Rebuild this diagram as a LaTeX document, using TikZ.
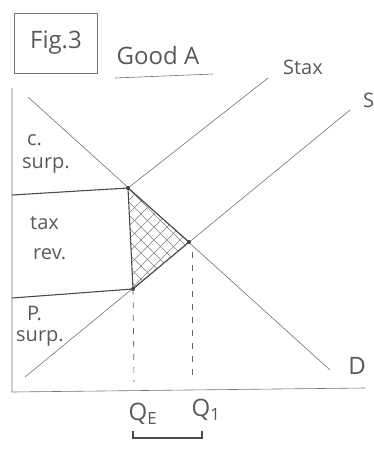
\documentclass[tikz,border=0pt]{standalone}
\usepackage{fontspec}
\setmainfont{Open Sans}
\begin{document}
\begin{tikzpicture}[x=1pt,y=-1pt,
  pencil/.style={draw=black!55, line width=0.6pt},
  heavy/.style={draw=black!70, line width=1.1pt},
  guide/.style={draw=black!60, line width=0.7pt, dash pattern=on 6pt off 7pt},
  lbl/.style={text=black!65, font=\fontsize{20}{21}\selectfont, inner sep=0pt},
  big/.style={text=black!65, font=\fontsize{24}{26}\selectfont, inner sep=0pt},
  dot/.style={circle, fill=black!75, inner sep=0pt, minimum size=4pt}]
\useasboundingbox (0,0) rectangle (374,451);
% key points
\coordinate (O) at (12,392);
\coordinate (Ytop) at (12,88);
\coordinate (Xend) at (365,388);
\coordinate (Dstart) at (28,97);
\coordinate (Dend) at (330,370);
\coordinate (Sstart) at (25,377);
\coordinate (Send) at (350,110);
\coordinate (Staxend) at (268,78);
\coordinate (A) at (128,188);
\coordinate (B) at (133,289);
\coordinate (E) at (189,242);
\coordinate (L1) at (12,195);
\coordinate (L2) at (12,298);
\coordinate (QEb) at (134,382);
\coordinate (Q1t) at (192,252);
\coordinate (Q1b) at (192,380);
% hatching
\begin{scope}
  \clip (A) -- (E) -- (B) -- cycle;
  \foreach \k in {-208,-195,...,208}{
    \draw[black!50, line width=0.6pt] (128+\k,188) -- ++(130,130);
    \draw[black!50, line width=0.6pt] (128+\k,188) -- ++(-130,130);
    \draw[black!50, line width=0.6pt] (128+\k,188) -- ++(130,-130);
    \draw[black!50, line width=0.6pt] (128+\k,188) -- ++(-130,-130);
  }
\end{scope}
% axes
\draw[pencil] (Ytop) -- (O) -- (Xend);
% curves
\draw[pencil] (Dstart) -- (Dend);
\draw[pencil] (Sstart) -- (Send);
\draw[pencil] (A) -- (Staxend);
% boxes
\draw[heavy] (L1) -- (A) -- (B) -- (L2);
\draw[heavy] (A) -- (E) -- (B);
\node[dot] at (A) {};
\node[dot] at (B) {};
\node[dot] at (E) {};
% dashed guides
\draw[guide] (B) -- (QEb);
\draw[guide] (Q1t) -- (Q1b);
% labels
\node[draw=black!55, line width=0.6pt, minimum width=83pt, minimum height=60pt, big] (fig) at (56,43) {Fig.3};
\node[big] (good) at (158,55) {Good A};
\coordinate (u1) at (115,78);
\coordinate (u2) at (213,74);
\draw[pencil] (u1) -- (u2);
\node[lbl] (stax) at (303,67) {Stax};
\node[lbl, anchor=west] (slab) at (363,100) {S};
\node[big] (dlab) at (357,366) {D};
\node[lbl, anchor=west] (c) at (27,140) {c.};
\node[lbl, anchor=west] (cs) at (22,165) {surp.};
\node[lbl, anchor=west] (tax) at (30,223) {tax};
\node[lbl, anchor=west] (rev) at (33,254) {rev.};
\node[lbl, anchor=west] (p) at (27,313) {P.};
\node[lbl, anchor=west] (ps) at (16,338) {surp.};
\node[big] (qe) at (143,414) {Q\textsubscript{E}};
\node[big] (q1) at (206,410) {Q\textsubscript{1}};
\coordinate (b1) at (133,431);
\coordinate (b2) at (133,438);
\coordinate (b3) at (202,438);
\coordinate (b4) at (202,431);
\draw[heavy] (b1) -- (b2) -- (b3) -- (b4);
\end{tikzpicture}
\end{document}
